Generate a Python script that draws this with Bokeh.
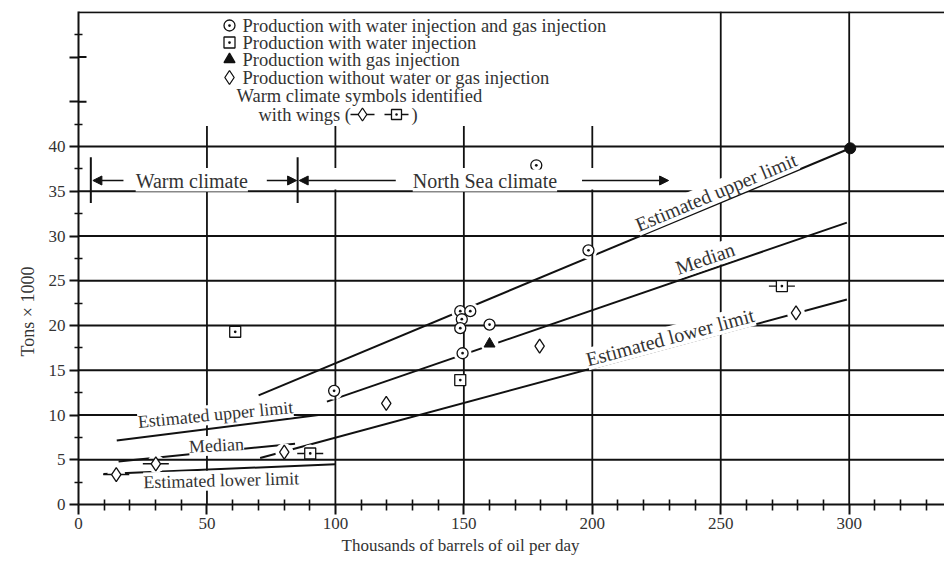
import math
from bokeh.plotting import figure
from bokeh.models import Range1d, FixedTicker, Label, Arrow, NormalHead, Title
from bokeh.embed import file_html
from bokeh.resources import INLINE

FONT = "Liberation Serif"
INK = "#111111"
TXT = "#333333"

# ---------------- data ----------------
# Production with water injection and gas injection (circles)
circ_x = [178.2, 198.5, 148.6, 152.5, 149.2, 148.6, 160.0, 149.5, 99.5]
circ_y = [37.9, 28.4, 21.6, 21.6, 20.7, 19.7, 20.1, 16.9, 12.7]
# Production with water injection (squares)
sq_x = [61.0, 148.6]
sq_y = [19.3, 13.9]
sq_warm_x = [90.2, 273.8]          # warm climate (winged)
sq_warm_y = [5.7, 24.4]
# Production with gas injection (triangle)
tri_x = [160.0]
tri_y = [17.95]
# Production without water or gas injection (diamonds)
dia_x = [80.1, 119.8, 179.5, 279.3]
dia_y = [5.85, 11.3, 17.7, 21.4]
dia_warm_x = [14.7, 30.1]          # warm climate (winged)
dia_warm_y = [3.35, 4.55]
# end point
end_x = [300.4]
end_y = [39.8]

# estimated curves, North Sea climate
upper_x = [70.1, 300.4]
upper_y = [12.2, 39.8]
median_x = [96.7, 299.1]
median_y = [11.5, 31.5]
lower_x = [70.7, 299.1]
lower_y = [5.2, 22.9]
# estimated curves, warm climate
upper_w_x = [14.9, 93.4]
upper_w_y = [7.15, 10.0]
median_w_x = [15.6, 84.3]
median_w_y = [4.8, 6.8]
lower_w_x = [9.7, 100.0]
lower_w_y = [3.4, 4.5]

x_ticks = [0, 50, 100, 150, 200, 250, 300]
x_minor = [v for v in range(10, 340, 10) if v % 50 != 0]
y_ticks = [0, 5, 10, 15, 20, 25, 30, 35, 40, 45, 50]
y_minor = [2.5, 7.5, 12.5, 17.5, 22.5, 27.5, 32.5, 37.5, 42.5, 52.5]
y_grid = [5, 10, 15, 20, 25, 30, 35, 40]
y_unlabelled = [45, 50]
climate_bounds = [4.8, 85.3]

# ---------------- layout ----------------
W, H = 944, 561
L, R, T, B = 78, 0, 11, 57
PXX = 2.569   # px per x unit
PXY = 8.95    # px per y unit
X_MAX = (W - L - R) / PXX
Y_MAX = (H - T - B) / PXY


def xd(px):
    return (px - L) / PXX


def yd(py):
    return (H - B - py) / PXY


p = figure(width=W, height=H, output_backend="svg", toolbar_location=None,
           x_range=Range1d(0, X_MAX), y_range=Range1d(0, Y_MAX),
           min_border_left=L, min_border_right=R, min_border_top=T, min_border_bottom=B)
p.xgrid.visible = False
p.ygrid.visible = False
p.outline_line_color = None
p.background_fill_color = "white"
p.border_fill_color = "white"

for ax in (p.xaxis[0], p.yaxis[0]):
    ax.axis_line_width = 2
    ax.axis_line_color = INK
    ax.major_tick_line_width = 2
    ax.major_tick_line_color = INK
    ax.minor_tick_line_width = 1.6
    ax.minor_tick_line_color = INK
    ax.major_tick_in = 0
    ax.major_label_text_font = FONT
    ax.major_label_text_font_size = "17px"
    ax.major_label_text_color = TXT

p.xaxis.ticker = FixedTicker(ticks=x_ticks, minor_ticks=x_minor)
p.xaxis.major_tick_out = 10
p.xaxis.minor_tick_out = 6
p.xaxis.minor_tick_in = 5
p.xaxis.major_label_standoff = 3

p.yaxis.ticker = FixedTicker(ticks=y_ticks, minor_ticks=y_minor)
p.yaxis.major_label_overrides = {45: "", 50: ""}
p.yaxis.major_tick_out = 9
p.yaxis.minor_tick_out = 4
p.yaxis.minor_tick_in = 4
p.yaxis.major_label_standoff = 4

# axis titles as Title panels
p.add_layout(Title(text="Thousands of barrels of oil per day", align="left", offset=263,
                   text_font=FONT, text_font_size="17px", text_font_style="normal",
                   text_color=TXT, standoff=4), "below")
p.add_layout(Title(text="Tons × 1000", align="left", offset=148,
                   text_font=FONT, text_font_size="18px", text_font_style="normal",
                   text_color=TXT, standoff=15), "left")

# ---------------- curves ----------------
for xs, ys in [(upper_x, upper_y), (median_x, median_y), (lower_x, lower_y),
               (upper_w_x, upper_w_y), (median_w_x, median_w_y), (lower_w_x, lower_w_y)]:
    p.line(xs, ys, line_color=INK, line_width=2)

# white halos round the markers (gaps in the curves)
all_x = circ_x + sq_x + sq_warm_x + tri_x + dia_x + dia_warm_x
all_y = circ_y + sq_y + sq_warm_y + tri_y + dia_y + dia_warm_y
p.scatter(all_x, all_y, marker="circle", size=18, fill_color="white", line_color=None)

# ---------------- grid ----------------
gx0, gx1, gy0, gy1 = [], [], [], []
for yv in y_grid:
    gx0.append(0); gx1.append(X_MAX); gy0.append(yv); gy1.append(yv)
for xv in [50, 100, 150, 200]:
    gx0 += [xv, xv]; gx1 += [xv, xv]
    gy0 += [0, 37.6]; gy1 += [35.2, 42.3]
for xv in [250, 300]:
    gx0.append(xv); gx1.append(xv); gy0.append(0); gy1.append(Y_MAX)
# inner part of the unlabelled upper ticks
for yv in y_unlabelled:
    gx0.append(0); gx1.append(xd(L + 8)); gy0.append(yv); gy1.append(yv)
p.segment(gx0, gy0, gx1, gy1, line_color=INK, line_width=1.8)
# top border
p.line([0, X_MAX], [Y_MAX - 0.09, Y_MAX - 0.09], line_color=INK, line_width=2)

# climate boundaries
p.segment(climate_bounds, [33.7] * 2, climate_bounds, [38.8] * 2, line_color=INK, line_width=2)
arrow_y = 36.2
for x0, x1 in [(17.5, 5.6), (73.3, 84.9), (123.5, 85.9), (196.0, 229.7)]:
    p.add_layout(Arrow(x_start=x0, y_start=arrow_y, x_end=x1, y_end=arrow_y,
                       line_color=INK, line_width=1.3,
                       end=NormalHead(size=9, fill_color=INK, line_color=INK)))

# ---------------- markers ----------------
MS = 11
p.scatter(sq_warm_x + dia_warm_x, sq_warm_y + dia_warm_y, marker="dash", size=26,
          line_color=INK, line_width=1.4)
p.scatter(circ_x, circ_y, marker="circle_dot", size=MS, fill_color="white",
          line_color=INK, line_width=1.3)
p.scatter(sq_x + sq_warm_x, sq_y + sq_warm_y, marker="square_dot", size=MS,
          fill_color="white", line_color=INK, line_width=1.3)
p.scatter(dia_x + dia_warm_x, dia_y + dia_warm_y, marker="diamond", size=14,
          fill_color="white", line_color=INK, line_width=1.3)
p.scatter(tri_x, tri_y, marker="triangle", size=11, fill_color=INK, line_color=INK)
p.scatter(end_x, end_y, marker="circle", size=11, fill_color=INK, line_color=INK)


# ---------------- texts ----------------
def lab(x, y, text, size="18px", angle=0.0, align="center", baseline="middle", bg=True):
    p.add_layout(Label(x=x, y=y, text=text, angle=math.radians(angle),
                       text_font=FONT, text_font_size=size, text_color=TXT,
                       text_align=align, text_baseline=baseline,
                       background_fill_color="white" if bg else None))


lab(44.1, arrow_y, "Warm climate", size="20px")
lab(158.2, arrow_y, "North Sea climate", size="20px")
lab(53.3, 10.06, "Estimated upper limit", angle=5.5)
lab(53.7, 6.6, "Median", angle=3)
lab(55.6, 2.7, "Estimated lower limit", angle=1.5)
lab(248.2, 34.9, "Estimated upper limit", size="20px", angle=22.7)
lab(243.9, 27.5, "Median", size="20px", angle=19)
lab(230.3, 18.7, "Estimated lower limit", size="20px", angle=15.1)

# legend
leg_sym_x = xd(229)
leg_txt_x = xd(242)
leg_rows = [25, 42, 59, 77]
leg_texts = ["Production with water injection and gas injection",
             "Production with water injection",
             "Production with gas injection",
             "Production without water or gas injection"]
leg_markers = [("circle_dot", 11, "white"), ("square_dot", 11, "white"),
               ("triangle", 11, INK), ("diamond", 14, "white")]
for py, t, (mk, sz, fc) in zip(leg_rows, leg_texts, leg_markers):
    p.scatter([leg_sym_x], [yd(py)], marker=mk, size=sz, fill_color=fc,
              line_color=INK, line_width=1.3)
    lab(leg_txt_x, yd(py), t, size="18.5px", align="left", bg=False)
lab(xd(236), yd(95), "Warm climate symbols identified", size="18.5px", align="left", bg=False)
lab(xd(258), yd(114), "with wings (", size="18.5px", align="left", bg=False)
p.scatter([xd(362), xd(396)], [yd(114), yd(114)], marker="dash", size=24,
          line_color=INK, line_width=1.4)
p.scatter([xd(362)], [yd(114)], marker="diamond", size=13, fill_color="white",
          line_color=INK, line_width=1.3)
p.scatter([xd(396)], [yd(114)], marker="square_dot", size=10, fill_color="white",
          line_color=INK, line_width=1.3)
lab(xd(411), yd(114), ")", size="18.5px", align="left", bg=False)

open("out.html", "w").write(file_html(p, INLINE))
